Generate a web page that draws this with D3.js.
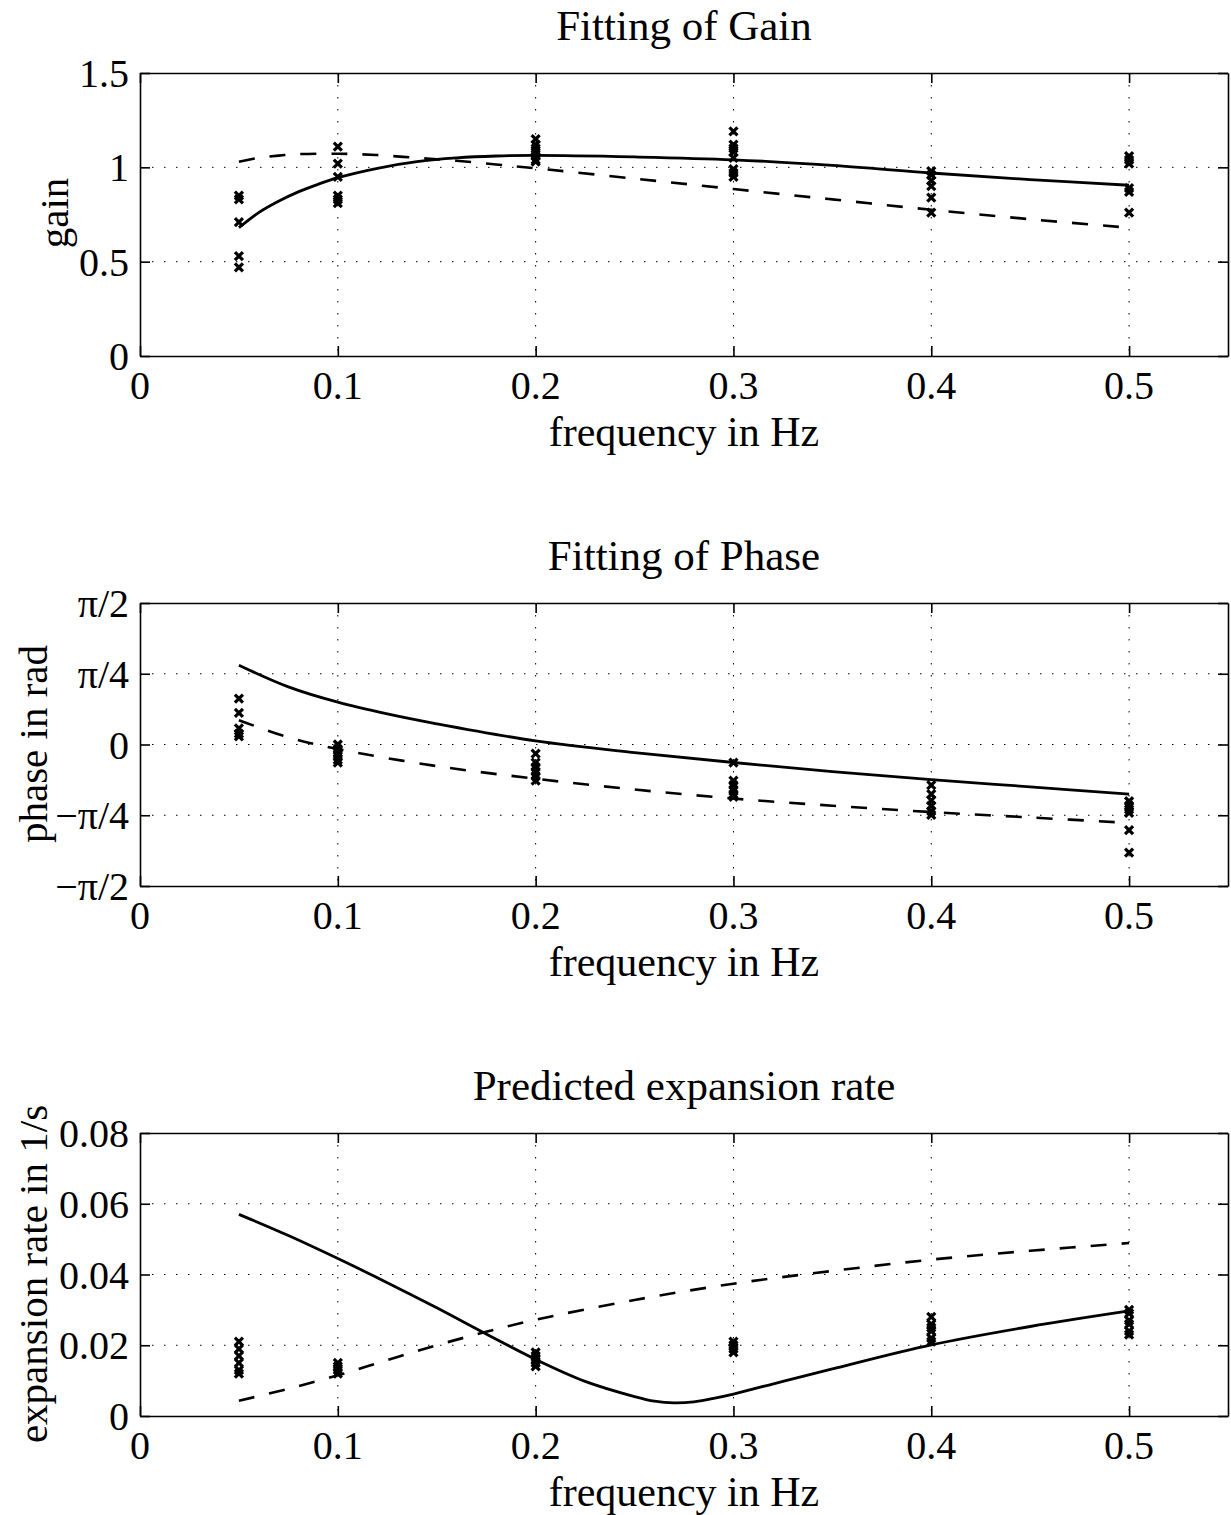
<!DOCTYPE html>
<html><head><meta charset="utf-8">
<script src="https://cdn.jsdelivr.net/npm/d3@7"></script>
<style>body{margin:0;background:#fff}svg{display:block}text{font-family:"Liberation Serif","Times New Roman",serif;fill:#000}</style>
</head><body>
<script>
// ---------- data ----------
const xTicks = [0, 0.1, 0.2, 0.3, 0.4, 0.5];
const xTickLabels = ["0", "0.1", "0.2", "0.3", "0.4", "0.5"];

// Gain panel
const gainTicks = [0, 0.5, 1, 1.5];
const gainTickLabels = ["0", "0.5", "1", "1.5"];
const gainPoints = [
  [0.05, [0.85, 0.83, 0.71, 0.53, 0.47]],
  [0.1, [1.11, 1.02, 0.95, 0.85, 0.83, 0.81]],
  [0.2, [1.15, 1.12, 1.10, 1.08, 1.06, 1.04, 1.03]],
  [0.3, [1.19, 1.12, 1.10, 1.08, 1.05, 0.99, 0.97, 0.95]],
  [0.4, [0.98, 0.96, 0.93, 0.90, 0.84, 0.76]],
  [0.5, [1.06, 1.04, 1.02, 0.89, 0.87, 0.76]]
];
const gainSolidX = [0.05, 0.06, 0.07, 0.08, 0.09, 0.1, 0.12, 0.14, 0.16, 0.18, 0.2, 0.25, 0.3, 0.35, 0.4, 0.45, 0.5];
const gainSolidY = [0.68, 0.76, 0.82, 0.87, 0.91, 0.945, 0.995, 1.03, 1.05, 1.06, 1.063, 1.055, 1.04, 1.01, 0.97, 0.935, 0.905];
const gainDashX = [0.05, 0.06, 0.07, 0.08, 0.1, 0.12, 0.14, 0.16, 0.18, 0.2, 0.25, 0.3, 0.35, 0.4, 0.45, 0.5];
const gainDashY = [1.03, 1.05, 1.062, 1.07, 1.072, 1.065, 1.05, 1.035, 1.015, 0.995, 0.94, 0.885, 0.83, 0.775, 0.725, 0.68];

// Phase panel
const phaseTicks = [-Math.PI / 2, -Math.PI / 4, 0, Math.PI / 4, Math.PI / 2];
const phaseTickLabels = ["\u2212\u03C0/2", "\u2212\u03C0/4", "0", "\u03C0/4", "\u03C0/2"];
const phasePoints = [
  [0.05, [0.51, 0.35, 0.18, 0.12, 0.09]],
  [0.1, [0.0, -0.05, -0.09, -0.13, -0.17, -0.2]],
  [0.2, [-0.1, -0.2, -0.25, -0.3, -0.35, -0.4]],
  [0.3, [-0.2, -0.4, -0.45, -0.5, -0.55, -0.58]],
  [0.4, [-0.45, -0.55, -0.62, -0.68, -0.74, -0.78]],
  [0.5, [-0.63, -0.68, -0.72, -0.76, -0.95, -1.2]]
];
const phaseSolidX = [0.05, 0.075, 0.1, 0.125, 0.15, 0.2, 0.25, 0.3, 0.35, 0.4, 0.45, 0.5];
const phaseSolidY = [0.88, 0.64, 0.47, 0.34, 0.23, 0.04, -0.09, -0.2, -0.3, -0.39, -0.47, -0.55];
const phaseDashX = [0.05, 0.075, 0.1, 0.15, 0.2, 0.25, 0.3, 0.35, 0.4, 0.45, 0.5];
const phaseDashY = [0.27, 0.08, -0.05, -0.24, -0.38, -0.5, -0.6, -0.68, -0.75, -0.81, -0.87];

// Expansion rate panel
const rateTicks = [0, 0.02, 0.04, 0.06, 0.08];
const rateTickLabels = ["0", "0.02", "0.04", "0.06", "0.08"];
const ratePoints = [
  [0.05, [0.021, 0.019, 0.017, 0.015, 0.013, 0.012]],
  [0.1, [0.015, 0.014, 0.013, 0.012]],
  [0.2, [0.018, 0.017, 0.016, 0.015, 0.014]],
  [0.3, [0.021, 0.020, 0.019, 0.018]],
  [0.4, [0.028, 0.026, 0.025, 0.024, 0.022, 0.021]],
  [0.5, [0.030, 0.029, 0.027, 0.026, 0.024, 0.023]]
];
const rateSolidX = [0.05, 0.075, 0.1, 0.125, 0.15, 0.175, 0.2, 0.225, 0.25, 0.26, 0.27, 0.28, 0.29, 0.3, 0.325, 0.35, 0.4, 0.45, 0.5];
const rateSolidY = [0.057, 0.051, 0.0445, 0.0377, 0.0306, 0.0232, 0.016, 0.0098, 0.0055, 0.0042, 0.0037, 0.004, 0.005, 0.0062, 0.0098, 0.0133, 0.0201, 0.0253, 0.0297];
const rateDashX = [0.05, 0.075, 0.1, 0.125, 0.15, 0.175, 0.2, 0.25, 0.3, 0.35, 0.4, 0.45, 0.5];
const rateDashY = [0.0043, 0.0077, 0.0115, 0.0158, 0.0200, 0.0238, 0.0272, 0.0328, 0.0374, 0.041, 0.0442, 0.0467, 0.0489];

const panels = [
  {title: "Fitting of Gain", ylabel: "gain", top: 73, yDomain: [0, 1.5], yTicks: gainTicks, yTickLabels: gainTickLabels,
   points: gainPoints, solid: [gainSolidX, gainSolidY], dash: [gainDashX, gainDashY], ylabelX: 68, ylabelY: 213},
  {title: "Fitting of Phase", ylabel: "phase in rad", top: 603, yDomain: [-Math.PI / 2, Math.PI / 2], yTicks: phaseTicks, yTickLabels: phaseTickLabels,
   points: phasePoints, solid: [phaseSolidX, phaseSolidY], dash: [phaseDashX, phaseDashY], ylabelX: 47, ylabelY: 744},
  {title: "Predicted expansion rate", ylabel: "expansion rate in 1/s", top: 1133, yDomain: [0, 0.08], yTicks: rateTicks, yTickLabels: rateTickLabels,
   points: ratePoints, solid: [rateSolidX, rateSolidY], dash: [rateDashX, rateDashY], ylabelX: 47, ylabelY: 1274}
];

// ---------- drawing ----------
const W = 1231, H = 1515;
const left = 140, right = 1228, ph = 283;
const FS = 43, FX = 42, FY = 41, FT = 40;
const svg = d3.select("body").append("svg").attr("width", W).attr("height", H);
const x = d3.scaleLinear().domain([0, 0.55]).range([left, right]);

panels.forEach(p => {
  const top = p.top, bottom = top + ph;
  const y = d3.scaleLinear().domain(p.yDomain).range([bottom, top]);
  const g = svg.append("g");

  // grid
  const gridX = xTicks.filter(t => t > 0);
  g.selectAll(".gx").data(gridX).enter().append("line")
    .attr("x1", d => x(d)).attr("x2", d => x(d)).attr("y1", top).attr("y2", bottom)
    .attr("stroke", "#000").attr("stroke-width", 1).attr("stroke-dasharray", "1.5,10.5");
  const gridY = p.yTicks.filter((t, i) => i > 0 && i < p.yTicks.length - 1);
  g.selectAll(".gy").data(gridY).enter().append("line")
    .attr("x1", left).attr("x2", right).attr("y1", d => y(d)).attr("y2", d => y(d))
    .attr("stroke", "#000").attr("stroke-width", 1).attr("stroke-dasharray", "1.5,10.5");

  // axes (MATLAB style box with inward ticks)
  const xb = d3.axisBottom(x).tickValues(xTicks).tickSizeInner(-10).tickSizeOuter(0).tickFormat("");
  const xt = d3.axisTop(x).tickValues(xTicks).tickSizeInner(-10).tickSizeOuter(0).tickFormat("");
  const yl = d3.axisLeft(y).tickValues(p.yTicks).tickSizeInner(-10).tickSizeOuter(0).tickFormat("");
  const yr = d3.axisRight(y).tickValues(p.yTicks).tickSizeInner(-10).tickSizeOuter(0).tickFormat("");
  [[xb, `translate(0,${bottom})`], [xt, `translate(0,${top})`], [yl, `translate(${left},0)`], [yr, `translate(${right},0)`]].forEach(([ax, tr]) => {
    const a = g.append("g").attr("transform", tr).call(ax);
    a.selectAll("path,line").attr("stroke", "#000").attr("stroke-width", 1.6);
  });

  // tick labels
  g.selectAll(".xl").data(xTicks).enter().append("text")
    .attr("x", d => x(d)).attr("y", bottom + 43).attr("text-anchor", "middle")
    .attr("font-size", FT).text((d, i) => xTickLabels[i]);
  g.selectAll(".yl").data(p.yTicks).enter().append("text")
    .attr("x", left - 11).attr("y", d => y(d) + 14).attr("text-anchor", "end")
    .attr("font-size", FT).text((d, i) => p.yTickLabels[i]);

  // labels
  g.append("text").attr("x", (left + right) / 2).attr("y", top - 33).attr("text-anchor", "middle")
    .attr("font-size", FS).text(p.title);
  g.append("text").attr("x", (left + right) / 2).attr("y", bottom + 90).attr("text-anchor", "middle")
    .attr("font-size", FX).text("frequency in Hz");
  g.append("text").attr("transform", `translate(${p.ylabelX},${p.ylabelY}) rotate(-90)`)
    .attr("text-anchor", "middle").attr("font-size", FY).text(p.ylabel);

  // curves
  const line = d3.line().curve(d3.curveCatmullRom.alpha(0.5)).x(d => x(d[0])).y(d => y(d[1]));
  const sd = p.solid[0].map((v, i) => [v, p.solid[1][i]]);
  const dd = p.dash[0].map((v, i) => [v, p.dash[1][i]]);
  g.append("path").datum(dd).attr("d", line).attr("fill", "none").attr("stroke", "#000")
    .attr("stroke-width", 2.6).attr("stroke-dasharray", "16,15");
  g.append("path").datum(sd).attr("d", line).attr("fill", "none").attr("stroke", "#000")
    .attr("stroke-width", 2.8);

  // markers
  const pts = [];
  p.points.forEach(([fx, vals]) => vals.forEach(v => pts.push([fx, v])));
  const s = 4;
  g.selectAll(".m").data(pts).enter().append("path")
    .attr("d", d => {
      const cx = x(d[0]), cy = y(d[1]);
      return `M${cx - s},${cy - s}L${cx + s},${cy + s}M${cx - s},${cy + s}L${cx + s},${cy - s}`;
    })
    .attr("stroke", "#000").attr("stroke-width", 3.2).attr("fill", "none");
});
</script>
</body></html>
